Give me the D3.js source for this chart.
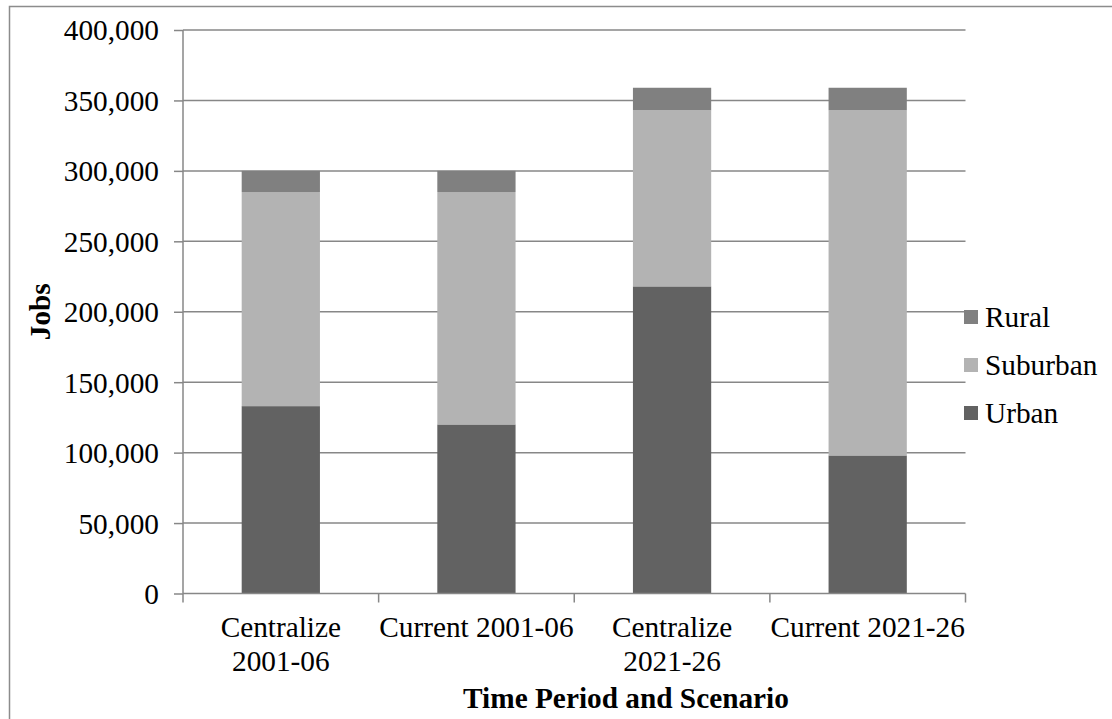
<!DOCTYPE html>
<html>
<head>
<meta charset="utf-8">
<script src="https://cdn.jsdelivr.net/npm/d3@7"></script>
<style>
  html, body { margin: 0; padding: 0; background: #fff; }
  svg { display: block; }
</style>
</head>
<body>
<svg id="chart" width="1112" height="719"></svg>
<script>
// Jobs by time period and scenario, stacked by area type
const categories = [["Centralize", "2001-06"], ["Current 2001-06"], ["Centralize", "2021-26"], ["Current 2021-26"]];
const urban    = [133000, 120000, 218000, 98000];
const suburban = [152000, 165000, 125000, 245000];
const rural    = [15000, 15000, 16000, 16000];
const seriesNames = ["Urban", "Suburban", "Rural"];
const seriesColors = ["#626262", "#b3b3b3", "#808080"];
const yTicks = [0, 50000, 100000, 150000, 200000, 250000, 300000, 350000, 400000];

const FONT = "'Liberation Serif', 'DejaVu Serif', serif";
const svg = d3.select("#chart").attr("font-family", FONT);
const fontSize = 29.3;
const W = 1112, H = 719;
const margin = { left: 183, right: W - 965.5, top: 30, bottom: H - 593.5 };

// Outer frame (top and left edges visible)
svg.append("rect")
  .attr("x", 9.5).attr("y", 6.5)
  .attr("width", 1200).attr("height", 800)
  .attr("fill", "none").attr("stroke", "#8c8c8c").attr("stroke-width", 1.5);

const keys = categories.map((c, i) => i);
const x = d3.scaleBand().domain(keys).range([margin.left, W - margin.right]).paddingInner(0).paddingOuter(0);
const y = d3.scaleLinear().domain([0, 400000]).range([H - margin.bottom, margin.top]);

const gridColor = "#878787";

// Horizontal gridlines
svg.append("g").selectAll("line").data(yTicks.filter(t => t > 0)).join("line")
  .attr("x1", margin.left).attr("x2", W - margin.right)
  .attr("y1", d => y(d)).attr("y2", d => y(d))
  .attr("stroke", gridColor).attr("stroke-width", 1.5);

// Stacked bars
const rows = keys.map(i => ({ i, Urban: urban[i], Suburban: suburban[i], Rural: rural[i] }));
const stack = d3.stack().keys(seriesNames)(rows);
const barW = x.bandwidth() * 0.4;

svg.append("g").selectAll("g").data(stack).join("g")
  .attr("fill", (d, k) => seriesColors[k])
  .selectAll("rect").data(d => d).join("rect")
    .attr("x", d => x(d.data.i) + (x.bandwidth() - barW) / 2)
    .attr("width", barW)
    .attr("y", d => y(d[1]))
    .attr("height", d => y(d[0]) - y(d[1]));

// Y axis
const yAxis = d3.axisLeft(y).tickValues(yTicks).tickFormat(d3.format(",")).tickSize(9).tickPadding(15);
const gy = svg.append("g").attr("transform", `translate(${margin.left},0)`).call(yAxis)
  .attr("font-family", FONT).attr("font-size", fontSize);
gy.select(".domain").attr("stroke", gridColor).attr("stroke-width", 1.5).attr("d", `M0,${y(400000)}V${y(0)}`);
gy.selectAll(".tick line").attr("stroke", gridColor).attr("stroke-width", 1.5);
gy.selectAll(".tick text").attr("fill", "#000").attr("dy", "0.34em");

// X axis baseline and category boundary ticks
const gx = svg.append("g");
gx.append("line")
  .attr("x1", margin.left).attr("x2", W - margin.right)
  .attr("y1", y(0)).attr("y2", y(0))
  .attr("stroke", gridColor).attr("stroke-width", 1.5);
const bounds = keys.map(i => x(i)).concat([x(keys[keys.length - 1]) + x.bandwidth()]);
gx.selectAll("line.tk").data(bounds).join("line").attr("class", "tk")
  .attr("x1", d => d).attr("x2", d => d)
  .attr("y1", y(0)).attr("y2", y(0) + 9)
  .attr("stroke", gridColor).attr("stroke-width", 1.5);

// Category labels
const lineH = 33.5;
gx.selectAll("text.cat").data(keys).join("text").attr("class", "cat")
  .attr("text-anchor", "middle")
  .attr("font-size", fontSize)
  .attr("transform", i => `translate(${x(i) + x.bandwidth() / 2},637)`)
  .each(function (i) {
    d3.select(this).selectAll("tspan").data(categories[i]).join("tspan")
      .attr("x", 0).attr("y", (d, k) => k * lineH).text(d => d);
  });

// Axis titles
svg.append("text")
  .attr("x", 626).attr("y", 708)
  .attr("text-anchor", "middle")
  .attr("font-size", fontSize).attr("font-weight", "bold")
  .text("Time Period and Scenario");

svg.append("text")
  .attr("transform", `translate(50,${(y(0) + y(400000)) / 2}) rotate(-90)`)
  .attr("text-anchor", "middle")
  .attr("font-size", fontSize).attr("font-weight", "bold")
  .text("Jobs");

// Legend (top to bottom: Rural, Suburban, Urban)
const legendItems = seriesNames.map((n, k) => ({ n, c: seriesColors[k] })).reverse();
const lg = svg.append("g").selectAll("g").data(legendItems).join("g")
  .attr("transform", (d, k) => `translate(964,${317 + k * 48})`);
lg.append("rect").attr("x", 0).attr("y", -7).attr("width", 14).attr("height", 14).attr("fill", d => d.c);
lg.append("text").attr("x", 21).attr("dy", "0.34em").attr("font-size", fontSize).text(d => d.n);
</script>
</body>
</html>
